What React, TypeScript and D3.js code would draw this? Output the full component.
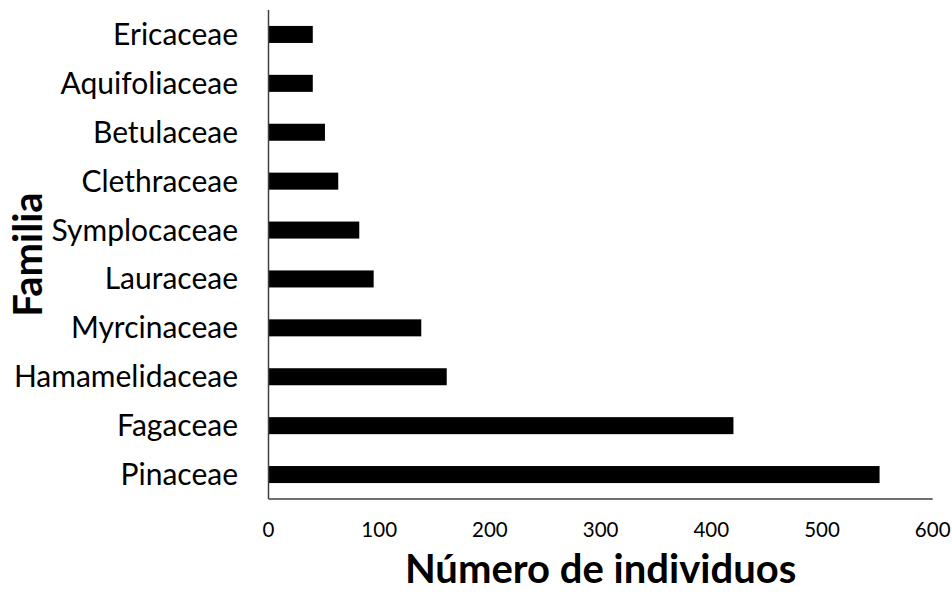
import React from "react";
import * as d3 from "d3";

const categories = [
  "Ericaceae",
  "Aquifoliaceae",
  "Betulaceae",
  "Clethraceae",
  "Symplocaceae",
  "Lauraceae",
  "Myrcinaceae",
  "Hamamelidaceae",
  "Fagaceae",
  "Pinaceae",
];
const values = [40, 40, 51, 63, 82, 95, 138, 161, 420, 552];
const xTicks = [0, 100, 200, 300, 400, 500, 600];
const xTitle = "Número de individuos";
const yTitle = "Familia";

const W = 952;
const H = 596;
const FONT = "Lato, 'Open Sans', sans-serif";

export default function App() {
  const left = 268.5;
  const right = 932.7;
  const top = 10;
  const bottom = 499;

  const x = d3.scaleLinear().domain([0, 600]).range([left, right]);
  const y = d3
    .scaleBand<string>()
    .domain(categories)
    .range([top, bottom])
    .paddingInner(0.652)
    .paddingOuter(0.326);

  return (
    <svg
      width={W}
      height={H}
      style={{ position: "absolute", left: 0, top: 0, background: "#fff" }}
    >
      <rect width={W} height={H} fill="#fff" />
      {categories.map((c, i) => (
        <rect
          key={c}
          x={x(0)}
          y={y(c)!}
          width={x(values[i]) - x(0)}
          height={y.bandwidth()}
          fill="#000"
        />
      ))}
      <line x1={left} x2={left} y1={top} y2={bottom} stroke="#404040" strokeWidth={1.5} />
      <line x1={left} x2={right} y1={bottom} y2={bottom} stroke="#404040" strokeWidth={1.5} />
      {xTicks.map((t) => (
        <text
          key={t}
          x={x(t)}
          y={537}
          textAnchor="middle"
          fontFamily={FONT}
          fontSize={20.5}
          fill="#000"
        >
          {t}
        </text>
      ))}
      {categories.map((c) => (
        <text
          key={c}
          x={238}
          y={y(c)! + y.bandwidth() / 2}
          dy="0.35em"
          textAnchor="end"
          fontFamily={FONT}
          fontSize={30}
          fill="#000"
        >
          {c}
        </text>
      ))}
      <text
        x={(left + right) / 2}
        y={583}
        textAnchor="middle"
        fontFamily={FONT}
        fontWeight="bold"
        fontSize={40}
        fill="#000"
      >
        {xTitle}
      </text>
      <text
        transform={`translate(42, ${(top + bottom) / 2}) rotate(-90)`}
        textAnchor="middle"
        fontFamily={FONT}
        fontWeight="bold"
        fontSize={40}
        fill="#000"
      >
        {yTitle}
      </text>
    </svg>
  );
}
